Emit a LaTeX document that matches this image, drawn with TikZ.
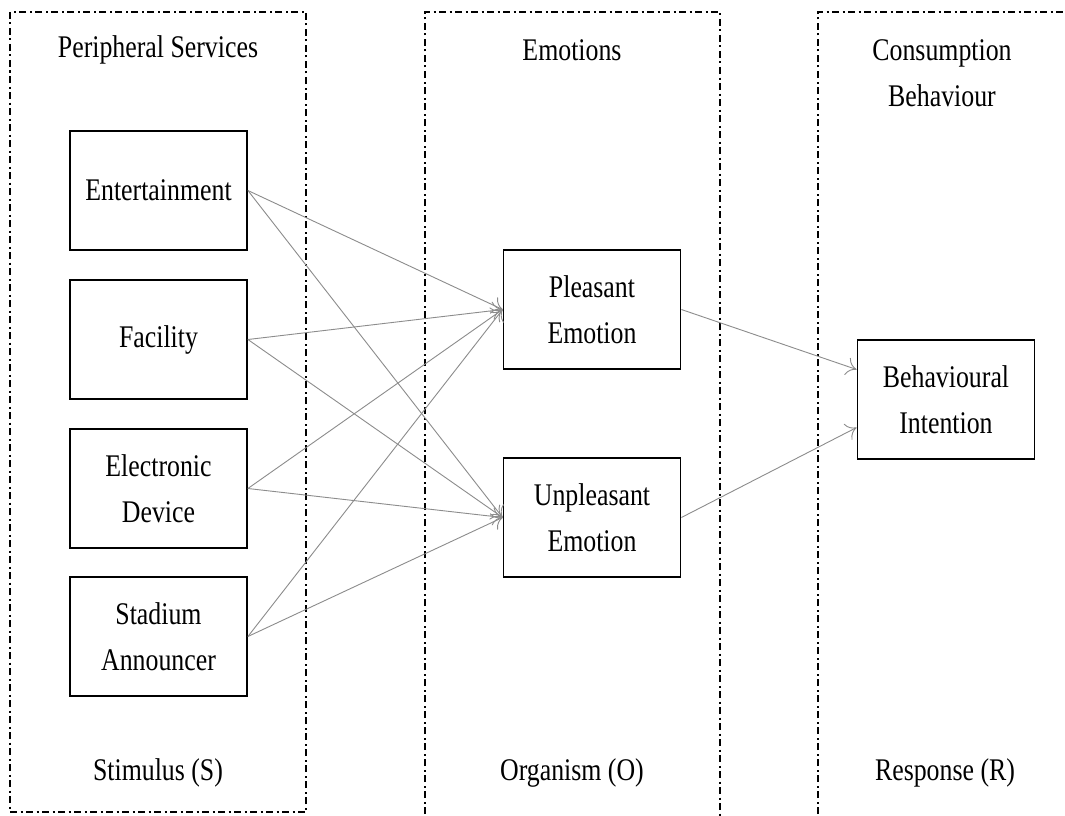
\documentclass[tikz,border=0pt]{standalone}
\usepackage{fontspec}
\setmainfont{Liberation Serif}[FakeStretch=0.82]
\usetikzlibrary{arrows.meta}
\begin{document}
\begin{tikzpicture}[x=1pt,y=-1pt,
  frame/.style={draw=black,line width=2pt,dash pattern=on 7pt off 3.5pt on 2pt off 3.5pt},
  factor/.style={draw=black,line width=1.8pt,minimum width=177pt,minimum height=119pt,
    align=center,font=\fontsize{31.5}{46}\selectfont,inner sep=0pt},
  label/.style={align=center,font=\fontsize{31.5}{46}\selectfont,inner sep=0pt},
  link/.style={draw=black!45,line width=0.9pt,-{To[length=10pt,width=18pt]}}]
\useasboundingbox (0,0) rectangle (1065,816);
\fill[white] (0,0) rectangle (1065,816);
% the three stage frames
\draw[frame] (10,12) rectangle (306,812);
\draw[frame] (425,830) -- (425,12) -- (720,12) -- (720,830);
\draw[frame] (818,830) -- (818,12) -- (1080,12);
% stage headings and footers
\node[label] (hS) at (158,50) {Peripheral Services};
\node[label] (hO) at (572,50) {Emotions};
\node[label] (hR) at (942,73) {Consumption\\Behaviour};
\node[label] (fS) at (158,773) {Stimulus (S)};
\node[label] (fO) at (572,773) {Organism (O)};
\node[label] (fR) at (945,773) {Response (R)};
% stimulus factors
\node[factor] (ent) at (158.5,190.5) {Entertainment};
\node[factor] (fac) at (158.5,339.5) {Facility};
\node[factor] (ele) at (158.5,488.5) {Electronic\\Device};
\node[factor] (sta) at (158.5,636.5) {Stadium\\Announcer};
% emotions
\node[factor] (ple) at (592,309.5) {Pleasant\\Emotion};
\node[factor] (unp) at (592,517.5) {Unpleasant\\Emotion};
% response
\node[factor] (beh) at (946,399.5) {Behavioural\\Intention};
% links
\foreach \s in {ent,fac,ele,sta}{
  \draw[link] (\s.east) -- (ple.west);
  \draw[link] (\s.east) -- (unp.west);
}
\draw[link] (ple.east) -- ([yshift=30pt]beh.west);
\draw[link] (unp.east) -- ([yshift=-28pt]beh.west);
\end{tikzpicture}
\end{document}
